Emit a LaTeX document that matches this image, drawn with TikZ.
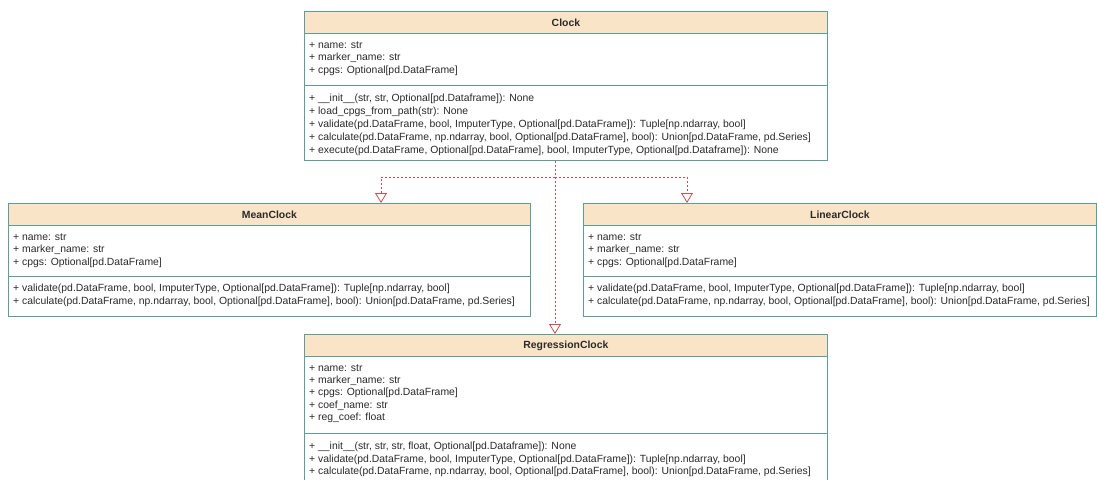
\documentclass[tikz,border=0pt]{standalone}
\usepackage{fontspec}
\setmainfont{Liberation Sans}
\usetikzlibrary{arrows.meta}
\definecolor{bd}{HTML}{5E9E9A}
\definecolor{hd}{HTML}{F9E4C8}
\definecolor{ln}{HTML}{C8504D}
\definecolor{tx}{HTML}{2A2A2A}
\begin{document}
\begin{tikzpicture}[x=1pt,y=-1pt,
  classbox/.style={draw=bd, fill=white, line width=0.8pt, inner sep=0pt, anchor=north west},
  hdr/.style={draw=bd, fill=hd, line width=0.8pt, inner sep=0pt, anchor=north west, minimum height=22pt},
  divider/.style={draw=bd, line width=0.8pt},
  ctitle/.style={font=\fontsize{10.4}{12}\selectfont\bfseries, text=tx, inner sep=0pt},
  txt/.style={font=\fontsize{10.4}{12}\selectfont, text=tx, anchor=west, inner sep=0pt},
  dline/.style={draw=ln, line width=0.8pt, dash pattern=on 2pt off 2pt},
  inh/.style={dline, -{Triangle[open, width=12pt, length=10pt, fill=white]}}
]
\useasboundingbox (0,0) rectangle (1097,479);

% ---------------- Clock ----------------
\node[classbox, minimum width=523pt, minimum height=149pt] (clock) at (304,11) {};
\node[hdr, minimum width=523pt] (clockh) at (304,11) {};
\node[ctitle] (clockt) at (clockh.center) {Clock};
\draw[divider] (304,85) -- (827,85);
\node[txt] (c1) at (309,45) {+ name: str};
\node[txt] (c2) at (309,58) {+ marker\_name: str};
\node[txt] (c3) at (309,71) {+ cpgs: Optional[pd.DataFrame]};
\node[txt] (c4) at (309,99) {+ \_\_init\_\_(str, str, Optional[pd.Dataframe]): None};
\node[txt] (c5) at (309,112) {+ load\_cpgs\_from\_path(str): None};
\node[txt] (c6) at (309,125) {+ validate(pd.DataFrame, bool, ImputerType, Optional[pd.DataFrame]): Tuple[np.ndarray, bool]};
\node[txt] (c7) at (309,138) {+ calculate(pd.DataFrame, np.ndarray, bool, Optional[pd.DataFrame], bool): Union[pd.DataFrame, pd.Series]};
\node[txt] (c8) at (309,151) {+ execute(pd.DataFrame, Optional[pd.DataFrame], bool, ImputerType, Optional[pd.Dataframe]): None};

% ---------------- MeanClock ----------------
\node[classbox, minimum width=522pt, minimum height=113pt] (mean) at (8,203) {};
\node[hdr, minimum width=522pt] (meanh) at (8,203) {};
\node[ctitle] (meant) at (meanh.center) {MeanClock};
\draw[divider] (8,276) -- (530,276);
\node[txt] (m1) at (13,237) {+ name: str};
\node[txt] (m2) at (13,250) {+ marker\_name: str};
\node[txt] (m3) at (13,263) {+ cpgs: Optional[pd.DataFrame]};
\node[txt] (m4) at (13,289) {+ validate(pd.DataFrame, bool, ImputerType, Optional[pd.DataFrame]): Tuple[np.ndarray, bool]};
\node[txt] (m5) at (13,302) {+ calculate(pd.DataFrame, np.ndarray, bool, Optional[pd.DataFrame], bool): Union[pd.DataFrame, pd.Series]};

% ---------------- LinearClock ----------------
\node[classbox, minimum width=513pt, minimum height=113pt] (lin) at (583,203) {};
\node[hdr, minimum width=513pt] (linh) at (583,203) {};
\node[ctitle] (lint) at (linh.center) {LinearClock};
\draw[divider] (583,276) -- (1096,276);
\node[txt] (l1) at (588,237) {+ name: str};
\node[txt] (l2) at (588,250) {+ marker\_name: str};
\node[txt] (l3) at (588,263) {+ cpgs: Optional[pd.DataFrame]};
\node[txt] (l4) at (588,289) {+ validate(pd.DataFrame, bool, ImputerType, Optional[pd.DataFrame]): Tuple[np.ndarray, bool]};
\node[txt] (l5) at (588,302) {+ calculate(pd.DataFrame, np.ndarray, bool, Optional[pd.DataFrame], bool): Union[pd.DataFrame, pd.Series]};

% ---------------- RegressionClock ----------------
\node[classbox, minimum width=523pt, minimum height=152pt] (reg) at (304,334) {};
\node[hdr, minimum width=523pt] (regh) at (304,334) {};
\node[ctitle] (regt) at (regh.center) {RegressionClock};
\draw[divider] (304,433) -- (827,433);
\node[txt] (r1) at (309,368) {+ name: str};
\node[txt] (r2) at (309,380.5) {+ marker\_name: str};
\node[txt] (r3) at (309,393) {+ cpgs: Optional[pd.DataFrame]};
\node[txt] (r4) at (309,405.5) {+ coef\_name: str};
\node[txt] (r5) at (309,418) {+ reg\_coef: float};
\node[txt] (r6) at (309,447) {+ \_\_init\_\_(str, str, str, float, Optional[pd.Dataframe]): None};
\node[txt] (r7) at (309,459.5) {+ validate(pd.DataFrame, bool, ImputerType, Optional[pd.DataFrame]): Tuple[np.ndarray, bool]};
\node[txt] (r8) at (309,472) {+ calculate(pd.DataFrame, np.ndarray, bool, Optional[pd.DataFrame], bool): Union[pd.DataFrame, pd.Series]};

% ---------------- inheritance ----------------
\coordinate (j) at (555,177);
\coordinate (ma) at (381,0);
\coordinate (la) at (687,0);
\draw[dline] (clock.south -| j) -- (j);
\draw[inh] (j) -| (mean.north -| ma);
\draw[inh] (j) -| (lin.north -| la);
\draw[inh] (j) -- (reg.north -| j);
\end{tikzpicture}
\end{document}
